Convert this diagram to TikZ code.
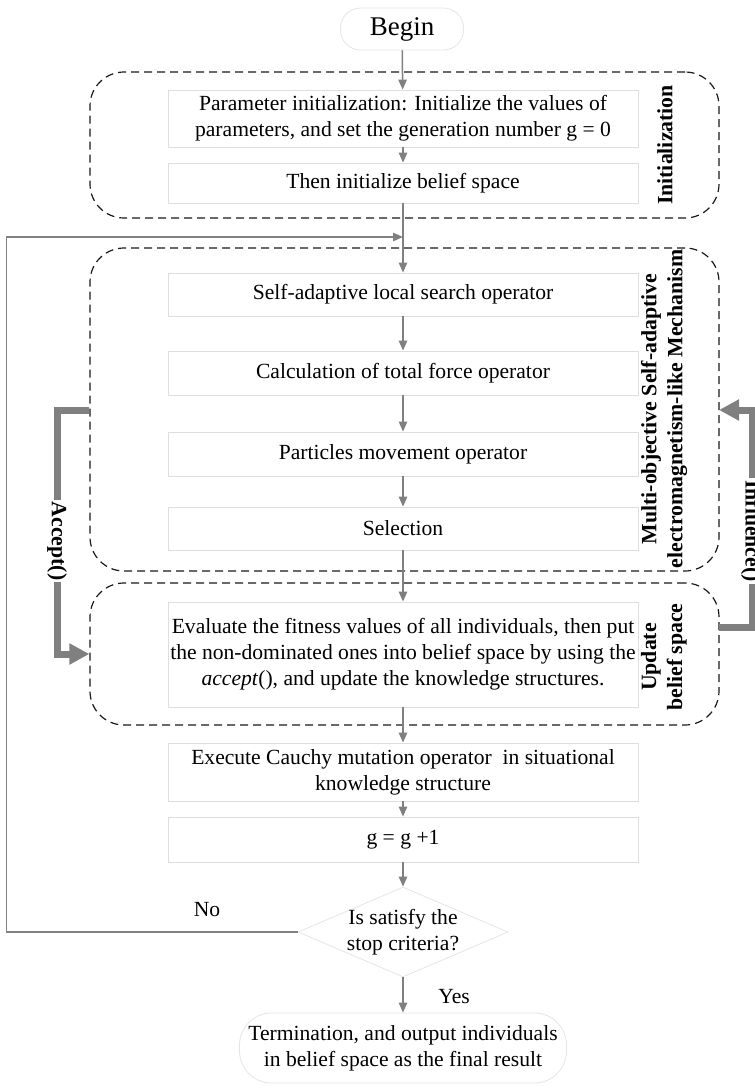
\documentclass[tikz,border=0pt]{standalone}
\usepackage{fontspec}
\setmainfont{Liberation Serif}
\usetikzlibrary{arrows.meta,shapes.geometric}

\begin{document}
\begin{tikzpicture}[x=0.5pt,y=0.5pt,yscale=-1,
  every node/.style={font=\fontsize{10.8}{13}\selectfont},
  stepbox/.style={draw=black!13,fill=white,minimum width=235pt,align=center,inner sep=1pt},
  termbox/.style={draw=black!10,fill=white,align=center,inner sep=2pt},
  group/.style={draw=black!90,dash pattern=on 4pt off 2.5pt,rounded corners=17pt,line width=0.6pt,minimum width=314.5pt},
  sidelabel/.style={rotate=90,font=\fontsize{10.9}{13}\selectfont\bfseries,align=center,inner sep=1pt},
  flow/.style={draw=black!50,line width=0.75pt,-{Triangle[length=5pt,width=4.2pt]}},
  bigflow/.style={draw=black!50,line width=3.5pt,-{Triangle[length=10pt,width=10pt]}}]
\useasboundingbox (0,0) rectangle (755,1088);

% dashed groups
\node[group,minimum height=73pt] (init) at (404.5,145) {};
\node[group,minimum height=161.5pt] (mosem) at (404.5,409.5) {};
\node[group,minimum height=71pt] (update) at (404.5,654) {};

\node[sidelabel] (initlbl) at (665,145) {Initialization};
\node[sidelabel] (mosemlbl) at (664,409) {Multi-objective Self-adaptive\\electromagnetism-like Mechanism};
\node[sidelabel] (updatelbl) at (664,657) {Update\\belief space};

% steps
\node[termbox,rounded corners=10pt,minimum width=61.5pt,minimum height=21pt] (begin) at (402,29) {\fontsize{13.5}{15}\selectfont Begin};
\node[stepbox,minimum height=28.5pt] (param) at (403,118.5) {Parameter initialization: Initialize the values of\\parameters, and set the generation number g = 0};
\node[stepbox,minimum height=20pt] (then) at (403,183) {Then initialize belief space};
\node[stepbox,minimum height=21.5pt] (sa) at (403,294.5) {Self-adaptive local search operator};
\node[stepbox,minimum height=22pt] (calc) at (403,373) {Calculation of total force operator};
\node[stepbox,minimum height=22pt] (part) at (403,454) {Particles movement operator};
\node[stepbox,minimum height=21.5pt] (sel) at (403,528.5) {Selection};
\node[stepbox,minimum height=52.5pt] (eval) at (403,654.5) {Evaluate the fitness values of all individuals, then put\\the non-dominated ones into belief space by using the\\\textit{accept}(), and update the knowledge structures.};
\node[stepbox,minimum height=29pt] (exe) at (403,772) {Execute Cauchy mutation operator~ in situational\\knowledge structure};
\node[stepbox,minimum height=22.5pt] (gbox) at (403,839.5) {g = g +1};
\node[termbox,shape=diamond,aspect=2.35,inner sep=-1.5pt,minimum width=105pt,minimum height=45pt] (test) at (403,932) {Is satisfy the\\stop criteria?};
\node[termbox,rounded corners=16pt,minimum width=163.5pt,minimum height=35pt] (term) at (403,1048) {Termination, and output individuals\\in belief space as the final result};

% flow
\coordinate (loop) at (403,237);
\draw[flow] (begin) -- (param);
\draw[flow] (param) -- (then);
\draw[flow] (then) -- (sa);
\draw[flow] (sa) -- (calc);
\draw[flow] (calc) -- (part);
\draw[flow] (part) -- (sel);
\draw[flow] (sel) -- (eval);
\draw[flow] (eval) -- (exe);
\draw[flow] (exe) -- (gbox);
\draw[flow] (gbox) -- (test);
\draw[flow] (test) -- (term) node[pos=0.55,right=14pt] (yes) {Yes};
\draw[flow] (test.west) -- ++(-291,0) |- (loop);
\node (no) at (207,910) {No};

% accept / influence
\coordinate (accout) at (89,410);
\coordinate (inflout) at (719,627);
\coordinate (inflin) at (719,410);
\draw[bigflow] (accout) -- ++(-32,0) |- (update.west);
\draw[bigflow] (inflout) -- ++(33,0) |- (inflin);
\node[sidelabel,rotate=180,fill=white] (acclbl) at (57,541) {Accept()};
\node[sidelabel,rotate=180,fill=white] (infllbl) at (751,531) {Influence()};
\end{tikzpicture}
\end{document}
